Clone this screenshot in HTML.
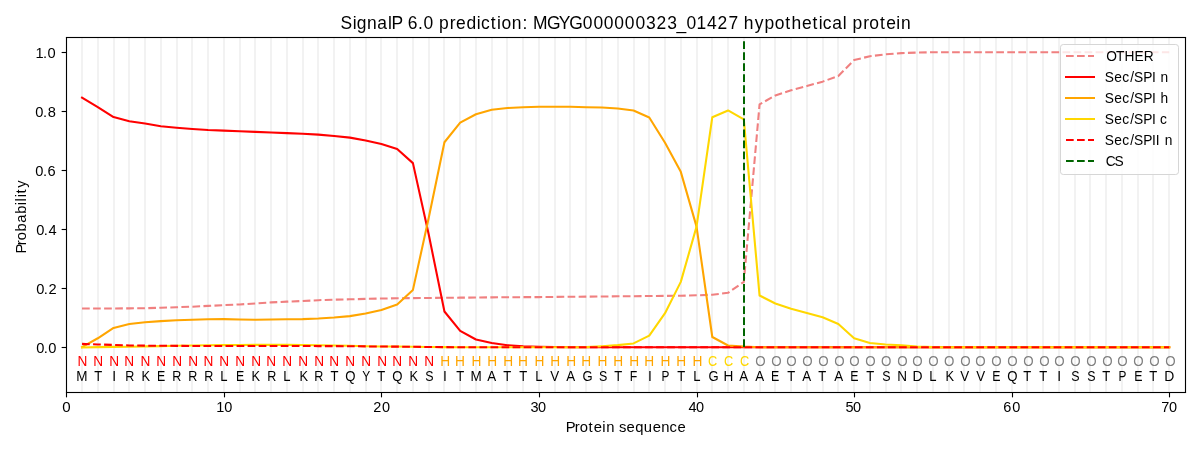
<!DOCTYPE html>
<html><head><meta charset="utf-8"><title>SignalP 6.0 prediction</title><style>
html,body{margin:0;padding:0;background:#ffffff;}
body{width:1200px;height:450px;overflow:hidden;}
svg{display:block;font-family:"Liberation Sans", sans-serif;will-change:transform;}
</style></head><body>
<svg width="1200" height="450" viewBox="0 0 1200 450">
<rect x="0" y="0" width="1200" height="450" fill="#ffffff"/>
<g fill="#f2f2f2"><rect x="81" y="37.33" width="2" height="354.39"/><rect x="97" y="37.33" width="2" height="354.39"/><rect x="113" y="37.33" width="2" height="354.39"/><rect x="128" y="37.33" width="2" height="354.39"/><rect x="144" y="37.33" width="2" height="354.39"/><rect x="160" y="37.33" width="2" height="354.39"/><rect x="176" y="37.33" width="2" height="354.39"/><rect x="191" y="37.33" width="2" height="354.39"/><rect x="207" y="37.33" width="2" height="354.39"/><rect x="223" y="37.33" width="2" height="354.39"/><rect x="239" y="37.33" width="2" height="354.39"/><rect x="254" y="37.33" width="2" height="354.39"/><rect x="270" y="37.33" width="2" height="354.39"/><rect x="286" y="37.33" width="2" height="354.39"/><rect x="302" y="37.33" width="2" height="354.39"/><rect x="317" y="37.33" width="2" height="354.39"/><rect x="333" y="37.33" width="2" height="354.39"/><rect x="349" y="37.33" width="2" height="354.39"/><rect x="365" y="37.33" width="2" height="354.39"/><rect x="380" y="37.33" width="2" height="354.39"/><rect x="396" y="37.33" width="2" height="354.39"/><rect x="412" y="37.33" width="2" height="354.39"/><rect x="428" y="37.33" width="2" height="354.39"/><rect x="443" y="37.33" width="2" height="354.39"/><rect x="459" y="37.33" width="2" height="354.39"/><rect x="475" y="37.33" width="2" height="354.39"/><rect x="491" y="37.33" width="2" height="354.39"/><rect x="506" y="37.33" width="2" height="354.39"/><rect x="522" y="37.33" width="2" height="354.39"/><rect x="538" y="37.33" width="2" height="354.39"/><rect x="554" y="37.33" width="2" height="354.39"/><rect x="569" y="37.33" width="2" height="354.39"/><rect x="585" y="37.33" width="2" height="354.39"/><rect x="601" y="37.33" width="2" height="354.39"/><rect x="617" y="37.33" width="2" height="354.39"/><rect x="633" y="37.33" width="2" height="354.39"/><rect x="648" y="37.33" width="2" height="354.39"/><rect x="664" y="37.33" width="2" height="354.39"/><rect x="680" y="37.33" width="2" height="354.39"/><rect x="696" y="37.33" width="2" height="354.39"/><rect x="711" y="37.33" width="2" height="354.39"/><rect x="727" y="37.33" width="2" height="354.39"/><rect x="743" y="37.33" width="2" height="354.39"/><rect x="759" y="37.33" width="2" height="354.39"/><rect x="774" y="37.33" width="2" height="354.39"/><rect x="790" y="37.33" width="2" height="354.39"/><rect x="806" y="37.33" width="2" height="354.39"/><rect x="822" y="37.33" width="2" height="354.39"/><rect x="837" y="37.33" width="2" height="354.39"/><rect x="853" y="37.33" width="2" height="354.39"/><rect x="869" y="37.33" width="2" height="354.39"/><rect x="885" y="37.33" width="2" height="354.39"/><rect x="900" y="37.33" width="2" height="354.39"/><rect x="916" y="37.33" width="2" height="354.39"/><rect x="932" y="37.33" width="2" height="354.39"/><rect x="948" y="37.33" width="2" height="354.39"/><rect x="963" y="37.33" width="2" height="354.39"/><rect x="979" y="37.33" width="2" height="354.39"/><rect x="995" y="37.33" width="2" height="354.39"/><rect x="1011" y="37.33" width="2" height="354.39"/><rect x="1026" y="37.33" width="2" height="354.39"/><rect x="1042" y="37.33" width="2" height="354.39"/><rect x="1058" y="37.33" width="2" height="354.39"/><rect x="1074" y="37.33" width="2" height="354.39"/><rect x="1089" y="37.33" width="2" height="354.39"/><rect x="1105" y="37.33" width="2" height="354.39"/><rect x="1121" y="37.33" width="2" height="354.39"/><rect x="1137" y="37.33" width="2" height="354.39"/><rect x="1152" y="37.33" width="2" height="354.39"/><rect x="1168" y="37.33" width="2" height="354.39"/></g>
<g fill="none" stroke-width="2.0833" stroke-linejoin="round"><polyline points="82.03,308.50 97.79,308.50 113.55,308.44 129.30,308.38 145.06,308.20 160.82,307.79 176.57,307.26 192.33,306.67 208.09,305.90 223.84,305.13 239.60,304.45 255.36,303.42 271.11,302.39 286.87,301.65 302.63,301.00 318.38,300.17 334.14,299.70 349.90,299.29 365.65,298.90 381.41,298.55 397.17,298.31 412.92,298.10 428.68,297.96 444.44,297.81 460.19,297.66 475.95,297.51 491.71,297.37 507.46,297.22 523.22,297.16 538.98,297.10 554.73,296.92 570.49,296.72 586.25,296.63 602.00,296.48 617.76,296.33 633.52,296.18 649.27,296.04 665.03,295.89 680.79,295.74 696.54,295.30 712.30,294.71 728.06,292.79 743.81,281.86 759.57,104.31 775.33,95.51 791.08,90.31 806.84,86.06 822.60,81.63 838.35,76.02 854.11,60.07 869.87,56.23 885.62,54.31 901.38,53.10 917.14,52.60 932.89,52.25 948.65,52.25 964.41,52.25 980.16,52.25 995.92,52.25 1011.68,52.25 1027.43,52.25 1043.19,52.25 1058.95,52.25 1074.70,52.25 1090.46,52.25 1106.22,52.25 1121.97,52.25 1137.73,52.25 1153.49,52.25 1169.24,52.25" stroke="#f08080" stroke-dasharray="7.708,3.333"/><polyline points="82.03,97.58 97.79,107.03 113.55,117.07 129.30,121.21 145.06,123.57 160.82,126.23 176.57,127.70 192.33,129.03 208.09,130.07 223.84,130.66 239.60,131.33 255.36,131.84 271.11,132.43 286.87,133.11 302.63,133.73 318.38,134.64 334.14,135.97 349.90,137.63 365.65,140.52 381.41,144.03 397.17,149.02 412.92,163.14 428.68,234.31 444.44,311.51 460.19,330.91 475.95,339.51 491.71,342.99 507.46,345.24 523.22,346.24 538.98,346.77 554.73,347.07 570.49,347.19 586.25,347.25 602.00,347.25 617.76,347.25 633.52,347.25 649.27,347.25 665.03,347.25 680.79,347.25 696.54,347.25 712.30,347.25 728.06,347.25 743.81,347.25 759.57,347.25 775.33,347.25 791.08,347.25 806.84,347.25 822.60,347.25 838.35,347.25 854.11,347.25 869.87,347.25 885.62,347.25 901.38,347.25 917.14,347.25 932.89,347.25 948.65,347.25 964.41,347.25 980.16,347.25 995.92,347.25 1011.68,347.25 1027.43,347.25 1043.19,347.25 1058.95,347.25 1074.70,347.25 1090.46,347.25 1106.22,347.25 1121.97,347.25 1137.73,347.25 1153.49,347.25 1169.24,347.25" stroke="#ff0000" stroke-linecap="square"/><polyline points="82.03,347.13 97.79,338.27 113.55,327.93 129.30,323.92 145.06,322.32 160.82,321.14 176.57,320.31 192.33,319.72 208.09,319.31 223.84,319.10 239.60,319.52 255.36,319.72 271.11,319.52 286.87,319.31 302.63,319.10 318.38,318.48 334.14,317.51 349.90,316.12 365.65,313.52 381.41,309.92 397.17,304.51 412.92,289.89 428.68,218.07 444.44,142.23 460.19,122.62 475.95,114.24 491.71,109.84 507.46,108.03 523.22,107.18 538.98,106.73 554.73,106.73 570.49,106.73 586.25,107.18 602.00,107.56 617.76,108.57 633.52,110.57 649.27,117.51 665.03,142.82 680.79,171.85 696.54,226.64 712.30,337.00 728.06,345.50 743.81,346.54 759.57,347.19 775.33,347.25 791.08,347.25 806.84,347.25 822.60,347.25 838.35,347.25 854.11,347.25 869.87,347.25 885.62,347.25 901.38,347.25 917.14,347.25 932.89,347.25 948.65,347.25 964.41,347.25 980.16,347.25 995.92,347.25 1011.68,347.25 1027.43,347.25 1043.19,347.25 1058.95,347.25 1074.70,347.25 1090.46,347.25 1106.22,347.25 1121.97,347.25 1137.73,347.25 1153.49,347.25 1169.24,347.25" stroke="#ffa500" stroke-linecap="square"/><polyline points="82.03,347.42 97.79,347.13 113.55,346.89 129.30,346.69 145.06,346.39 160.82,346.09 176.57,345.80 192.33,345.50 208.09,345.30 223.84,345.12 239.60,345.00 255.36,344.91 271.11,344.88 286.87,344.88 302.63,345.00 318.38,345.18 334.14,345.47 349.90,345.83 365.65,346.18 381.41,346.42 397.17,346.54 412.92,346.77 428.68,346.98 444.44,347.13 460.19,347.19 475.95,347.22 491.71,347.25 507.46,347.25 523.22,347.25 538.98,347.25 554.73,347.25 570.49,347.19 586.25,347.13 602.00,346.24 617.76,345.12 633.52,343.44 649.27,335.61 665.03,313.17 680.79,281.86 696.54,226.64 712.30,117.22 728.06,110.43 743.81,119.43 759.57,295.54 775.33,303.51 791.08,308.74 806.84,313.02 822.60,317.30 838.35,324.00 854.11,338.21 869.87,342.99 885.62,344.47 901.38,345.30 917.14,346.54 932.89,347.13 948.65,347.19 964.41,347.19 980.16,347.19 995.92,347.19 1011.68,347.19 1027.43,347.19 1043.19,347.19 1058.95,347.19 1074.70,347.19 1090.46,347.19 1106.22,347.19 1121.97,347.19 1137.73,347.19 1153.49,347.19 1169.24,347.19" stroke="#ffd700" stroke-linecap="square"/><polyline points="82.03,343.88 97.79,344.47 113.55,344.88 129.30,345.42 145.06,345.65 160.82,345.77 176.57,345.86 192.33,345.95 208.09,345.98 223.84,346.01 239.60,346.01 255.36,346.01 271.11,346.01 286.87,346.01 302.63,346.04 318.38,346.09 334.14,346.15 349.90,346.24 365.65,346.39 381.41,346.54 397.17,346.63 412.92,346.83 428.68,346.98 444.44,347.13 460.19,347.19 475.95,347.25 491.71,347.25 507.46,347.25 523.22,347.25 538.98,347.25 554.73,347.25 570.49,347.25 586.25,347.25 602.00,347.25 617.76,347.25 633.52,347.25 649.27,347.25 665.03,347.25 680.79,347.25 696.54,347.25 712.30,347.25 728.06,347.25 743.81,347.25 759.57,347.25 775.33,347.25 791.08,347.25 806.84,347.25 822.60,347.25 838.35,347.25 854.11,347.25 869.87,347.25 885.62,347.25 901.38,347.25 917.14,347.25 932.89,347.25 948.65,347.25 964.41,347.25 980.16,347.25 995.92,347.25 1011.68,347.25 1027.43,347.25 1043.19,347.25 1058.95,347.25 1074.70,347.25 1090.46,347.25 1106.22,347.25 1121.97,347.25 1137.73,347.25 1153.49,347.25 1169.24,347.25" stroke="#ff0000" stroke-dasharray="7.708,3.333"/><line x1="744" y1="347" x2="744" y2="37.33" stroke="#006400" stroke-width="2" stroke-dasharray="7.708,3.333"/></g>
<g text-anchor="middle"><text x="82.32" y="365.60" fill="#ff0000" font-size="15.400" textLength="9.87" lengthAdjust="spacingAndGlyphs">N</text><text x="81.98" y="380.60" fill="#000000" font-size="14.500" textLength="11.26" lengthAdjust="spacingAndGlyphs">M</text><text x="98.08" y="365.60" fill="#ff0000" font-size="15.400" textLength="9.87" lengthAdjust="spacingAndGlyphs">N</text><text x="98.27" y="380.60" fill="#000000" font-size="14.500" textLength="7.97" lengthAdjust="spacingAndGlyphs">T</text><text x="114.23" y="365.60" fill="#ff0000" font-size="15.400" textLength="9.87" lengthAdjust="spacingAndGlyphs">N</text><text x="114.09" y="380.60" fill="#000000" font-size="14.500" textLength="3.85" lengthAdjust="spacingAndGlyphs">I</text><text x="129.26" y="365.60" fill="#ff0000" font-size="15.400" textLength="9.87" lengthAdjust="spacingAndGlyphs">N</text><text x="129.73" y="380.60" fill="#000000" font-size="14.500" textLength="9.07" lengthAdjust="spacingAndGlyphs">R</text><text x="145.35" y="365.60" fill="#ff0000" font-size="15.400" textLength="9.87" lengthAdjust="spacingAndGlyphs">N</text><text x="145.76" y="380.60" fill="#000000" font-size="14.500" textLength="8.56" lengthAdjust="spacingAndGlyphs">K</text><text x="161.10" y="365.60" fill="#ff0000" font-size="15.400" textLength="9.87" lengthAdjust="spacingAndGlyphs">N</text><text x="161.18" y="380.60" fill="#000000" font-size="14.500" textLength="8.25" lengthAdjust="spacingAndGlyphs">E</text><text x="177.26" y="365.60" fill="#ff0000" font-size="15.400" textLength="9.87" lengthAdjust="spacingAndGlyphs">N</text><text x="176.80" y="380.60" fill="#000000" font-size="14.500" textLength="9.07" lengthAdjust="spacingAndGlyphs">R</text><text x="193.17" y="365.60" fill="#ff0000" font-size="15.400" textLength="9.87" lengthAdjust="spacingAndGlyphs">N</text><text x="192.76" y="380.60" fill="#000000" font-size="14.500" textLength="9.07" lengthAdjust="spacingAndGlyphs">R</text><text x="208.37" y="365.60" fill="#ff0000" font-size="15.400" textLength="9.87" lengthAdjust="spacingAndGlyphs">N</text><text x="208.70" y="380.60" fill="#000000" font-size="14.500" textLength="9.07" lengthAdjust="spacingAndGlyphs">R</text><text x="224.21" y="365.60" fill="#ff0000" font-size="15.400" textLength="9.87" lengthAdjust="spacingAndGlyphs">N</text><text x="223.93" y="380.60" fill="#000000" font-size="14.500" textLength="7.27" lengthAdjust="spacingAndGlyphs">L</text><text x="240.28" y="365.60" fill="#ff0000" font-size="15.400" textLength="9.87" lengthAdjust="spacingAndGlyphs">N</text><text x="240.17" y="380.60" fill="#000000" font-size="14.500" textLength="8.25" lengthAdjust="spacingAndGlyphs">E</text><text x="256.21" y="365.60" fill="#ff0000" font-size="15.400" textLength="9.87" lengthAdjust="spacingAndGlyphs">N</text><text x="255.73" y="380.60" fill="#000000" font-size="14.500" textLength="8.56" lengthAdjust="spacingAndGlyphs">K</text><text x="271.15" y="365.60" fill="#ff0000" font-size="15.400" textLength="9.87" lengthAdjust="spacingAndGlyphs">N</text><text x="271.73" y="380.60" fill="#000000" font-size="14.500" textLength="9.07" lengthAdjust="spacingAndGlyphs">R</text><text x="287.24" y="365.60" fill="#ff0000" font-size="15.400" textLength="9.87" lengthAdjust="spacingAndGlyphs">N</text><text x="286.95" y="380.60" fill="#000000" font-size="14.500" textLength="7.27" lengthAdjust="spacingAndGlyphs">L</text><text x="303.23" y="365.60" fill="#ff0000" font-size="15.400" textLength="9.87" lengthAdjust="spacingAndGlyphs">N</text><text x="303.74" y="380.60" fill="#000000" font-size="14.500" textLength="8.56" lengthAdjust="spacingAndGlyphs">K</text><text x="319.15" y="365.60" fill="#ff0000" font-size="15.400" textLength="9.87" lengthAdjust="spacingAndGlyphs">N</text><text x="318.81" y="380.60" fill="#000000" font-size="14.500" textLength="9.07" lengthAdjust="spacingAndGlyphs">R</text><text x="334.18" y="365.60" fill="#ff0000" font-size="15.400" textLength="9.87" lengthAdjust="spacingAndGlyphs">N</text><text x="334.36" y="380.60" fill="#000000" font-size="14.500" textLength="7.97" lengthAdjust="spacingAndGlyphs">T</text><text x="350.18" y="365.60" fill="#ff0000" font-size="15.400" textLength="9.87" lengthAdjust="spacingAndGlyphs">N</text><text x="350.51" y="380.60" fill="#000000" font-size="14.500" textLength="10.28" lengthAdjust="spacingAndGlyphs">Q</text><text x="366.26" y="365.60" fill="#ff0000" font-size="15.400" textLength="9.87" lengthAdjust="spacingAndGlyphs">N</text><text x="366.19" y="380.60" fill="#000000" font-size="14.500" textLength="7.97" lengthAdjust="spacingAndGlyphs">Y</text><text x="382.18" y="365.60" fill="#ff0000" font-size="15.400" textLength="9.87" lengthAdjust="spacingAndGlyphs">N</text><text x="381.18" y="380.60" fill="#000000" font-size="14.500" textLength="7.97" lengthAdjust="spacingAndGlyphs">T</text><text x="397.21" y="365.60" fill="#ff0000" font-size="15.400" textLength="9.87" lengthAdjust="spacingAndGlyphs">N</text><text x="397.47" y="380.60" fill="#000000" font-size="14.500" textLength="10.28" lengthAdjust="spacingAndGlyphs">Q</text><text x="413.21" y="365.60" fill="#ff0000" font-size="15.400" textLength="9.87" lengthAdjust="spacingAndGlyphs">N</text><text x="413.81" y="380.60" fill="#000000" font-size="14.500" textLength="8.56" lengthAdjust="spacingAndGlyphs">K</text><text x="429.29" y="365.60" fill="#ff0000" font-size="15.400" textLength="9.87" lengthAdjust="spacingAndGlyphs">N</text><text x="429.28" y="380.60" fill="#000000" font-size="14.500" textLength="8.29" lengthAdjust="spacingAndGlyphs">S</text><text x="445.17" y="365.60" fill="#ffa500" font-size="15.400" textLength="9.92" lengthAdjust="spacingAndGlyphs">H</text><text x="444.99" y="380.60" fill="#000000" font-size="14.500" textLength="3.85" lengthAdjust="spacingAndGlyphs">I</text><text x="460.05" y="365.60" fill="#ffa500" font-size="15.400" textLength="9.92" lengthAdjust="spacingAndGlyphs">H</text><text x="460.16" y="380.60" fill="#000000" font-size="14.500" textLength="7.97" lengthAdjust="spacingAndGlyphs">T</text><text x="476.35" y="365.60" fill="#ffa500" font-size="15.400" textLength="9.92" lengthAdjust="spacingAndGlyphs">H</text><text x="476.06" y="380.60" fill="#000000" font-size="14.500" textLength="11.26" lengthAdjust="spacingAndGlyphs">M</text><text x="492.19" y="365.60" fill="#ffa500" font-size="15.400" textLength="9.92" lengthAdjust="spacingAndGlyphs">H</text><text x="491.65" y="380.60" fill="#000000" font-size="14.500" textLength="8.93" lengthAdjust="spacingAndGlyphs">A</text><text x="508.20" y="365.60" fill="#ffa500" font-size="15.400" textLength="9.92" lengthAdjust="spacingAndGlyphs">H</text><text x="507.24" y="380.60" fill="#000000" font-size="14.500" textLength="7.97" lengthAdjust="spacingAndGlyphs">T</text><text x="523.08" y="365.60" fill="#ffa500" font-size="15.400" textLength="9.92" lengthAdjust="spacingAndGlyphs">H</text><text x="523.19" y="380.60" fill="#000000" font-size="14.500" textLength="7.97" lengthAdjust="spacingAndGlyphs">T</text><text x="539.46" y="365.60" fill="#ffa500" font-size="15.400" textLength="9.92" lengthAdjust="spacingAndGlyphs">H</text><text x="538.90" y="380.60" fill="#000000" font-size="14.500" textLength="7.27" lengthAdjust="spacingAndGlyphs">L</text><text x="555.14" y="365.60" fill="#ffa500" font-size="15.400" textLength="9.92" lengthAdjust="spacingAndGlyphs">H</text><text x="554.73" y="380.60" fill="#000000" font-size="14.500" textLength="8.93" lengthAdjust="spacingAndGlyphs">V</text><text x="571.30" y="365.60" fill="#ffa500" font-size="15.400" textLength="9.92" lengthAdjust="spacingAndGlyphs">H</text><text x="570.59" y="380.60" fill="#000000" font-size="14.500" textLength="8.93" lengthAdjust="spacingAndGlyphs">A</text><text x="586.11" y="365.60" fill="#ffa500" font-size="15.400" textLength="9.92" lengthAdjust="spacingAndGlyphs">H</text><text x="587.53" y="380.60" fill="#000000" font-size="14.500" textLength="10.12" lengthAdjust="spacingAndGlyphs">G</text><text x="602.48" y="365.60" fill="#ffa500" font-size="15.400" textLength="9.92" lengthAdjust="spacingAndGlyphs">H</text><text x="603.22" y="380.60" fill="#000000" font-size="14.500" textLength="8.29" lengthAdjust="spacingAndGlyphs">S</text><text x="618.16" y="365.60" fill="#ffa500" font-size="15.400" textLength="9.92" lengthAdjust="spacingAndGlyphs">H</text><text x="618.24" y="380.60" fill="#000000" font-size="14.500" textLength="7.97" lengthAdjust="spacingAndGlyphs">T</text><text x="634.32" y="365.60" fill="#ffa500" font-size="15.400" textLength="9.92" lengthAdjust="spacingAndGlyphs">H</text><text x="633.60" y="380.60" fill="#000000" font-size="14.500" textLength="7.51" lengthAdjust="spacingAndGlyphs">F</text><text x="649.13" y="365.60" fill="#ffa500" font-size="15.400" textLength="9.92" lengthAdjust="spacingAndGlyphs">H</text><text x="649.98" y="380.60" fill="#000000" font-size="14.500" textLength="3.85" lengthAdjust="spacingAndGlyphs">I</text><text x="665.51" y="365.60" fill="#ffa500" font-size="15.400" textLength="9.92" lengthAdjust="spacingAndGlyphs">H</text><text x="665.38" y="380.60" fill="#000000" font-size="14.500" textLength="7.87" lengthAdjust="spacingAndGlyphs">P</text><text x="681.19" y="365.60" fill="#ffa500" font-size="15.400" textLength="9.92" lengthAdjust="spacingAndGlyphs">H</text><text x="681.27" y="380.60" fill="#000000" font-size="14.500" textLength="7.97" lengthAdjust="spacingAndGlyphs">T</text><text x="697.35" y="365.60" fill="#ffa500" font-size="15.400" textLength="9.92" lengthAdjust="spacingAndGlyphs">H</text><text x="696.99" y="380.60" fill="#000000" font-size="14.500" textLength="7.27" lengthAdjust="spacingAndGlyphs">L</text><text x="712.72" y="365.60" fill="#ffd700" font-size="15.400" textLength="9.21" lengthAdjust="spacingAndGlyphs">C</text><text x="713.45" y="380.60" fill="#000000" font-size="14.500" textLength="10.12" lengthAdjust="spacingAndGlyphs">G</text><text x="728.48" y="365.60" fill="#ffd700" font-size="15.400" textLength="9.21" lengthAdjust="spacingAndGlyphs">C</text><text x="728.44" y="380.60" fill="#000000" font-size="14.500" textLength="9.82" lengthAdjust="spacingAndGlyphs">H</text><text x="744.49" y="365.60" fill="#ffd700" font-size="15.400" textLength="9.21" lengthAdjust="spacingAndGlyphs">C</text><text x="743.72" y="380.60" fill="#000000" font-size="14.500" textLength="8.93" lengthAdjust="spacingAndGlyphs">A</text><text x="760.39" y="365.60" fill="#808080" font-size="15.400" textLength="10.39" lengthAdjust="spacingAndGlyphs">O</text><text x="759.69" y="380.60" fill="#000000" font-size="14.500" textLength="8.93" lengthAdjust="spacingAndGlyphs">A</text><text x="776.51" y="365.60" fill="#808080" font-size="15.400" textLength="10.39" lengthAdjust="spacingAndGlyphs">O</text><text x="775.14" y="380.60" fill="#000000" font-size="14.500" textLength="8.25" lengthAdjust="spacingAndGlyphs">E</text><text x="791.53" y="365.60" fill="#808080" font-size="15.400" textLength="10.39" lengthAdjust="spacingAndGlyphs">O</text><text x="791.31" y="380.60" fill="#000000" font-size="14.500" textLength="7.97" lengthAdjust="spacingAndGlyphs">T</text><text x="807.35" y="365.60" fill="#808080" font-size="15.400" textLength="10.39" lengthAdjust="spacingAndGlyphs">O</text><text x="806.75" y="380.60" fill="#000000" font-size="14.500" textLength="8.93" lengthAdjust="spacingAndGlyphs">A</text><text x="823.42" y="365.60" fill="#808080" font-size="15.400" textLength="10.39" lengthAdjust="spacingAndGlyphs">O</text><text x="822.18" y="380.60" fill="#000000" font-size="14.500" textLength="7.97" lengthAdjust="spacingAndGlyphs">T</text><text x="839.54" y="365.60" fill="#808080" font-size="15.400" textLength="10.39" lengthAdjust="spacingAndGlyphs">O</text><text x="838.62" y="380.60" fill="#000000" font-size="14.500" textLength="8.93" lengthAdjust="spacingAndGlyphs">A</text><text x="854.55" y="365.60" fill="#808080" font-size="15.400" textLength="10.39" lengthAdjust="spacingAndGlyphs">O</text><text x="854.28" y="380.60" fill="#000000" font-size="14.500" textLength="8.25" lengthAdjust="spacingAndGlyphs">E</text><text x="870.38" y="365.60" fill="#808080" font-size="15.400" textLength="10.39" lengthAdjust="spacingAndGlyphs">O</text><text x="870.35" y="380.60" fill="#000000" font-size="14.500" textLength="7.97" lengthAdjust="spacingAndGlyphs">T</text><text x="886.27" y="365.60" fill="#808080" font-size="15.400" textLength="10.39" lengthAdjust="spacingAndGlyphs">O</text><text x="886.30" y="380.60" fill="#000000" font-size="14.500" textLength="8.29" lengthAdjust="spacingAndGlyphs">S</text><text x="902.33" y="365.60" fill="#808080" font-size="15.400" textLength="10.39" lengthAdjust="spacingAndGlyphs">O</text><text x="902.21" y="380.60" fill="#000000" font-size="14.500" textLength="9.77" lengthAdjust="spacingAndGlyphs">N</text><text x="917.54" y="365.60" fill="#808080" font-size="15.400" textLength="10.39" lengthAdjust="spacingAndGlyphs">O</text><text x="917.57" y="380.60" fill="#000000" font-size="14.500" textLength="10.05" lengthAdjust="spacingAndGlyphs">D</text><text x="933.40" y="365.60" fill="#808080" font-size="15.400" textLength="10.39" lengthAdjust="spacingAndGlyphs">O</text><text x="932.98" y="380.60" fill="#000000" font-size="14.500" textLength="7.27" lengthAdjust="spacingAndGlyphs">L</text><text x="949.30" y="365.60" fill="#808080" font-size="15.400" textLength="10.39" lengthAdjust="spacingAndGlyphs">O</text><text x="949.77" y="380.60" fill="#000000" font-size="14.500" textLength="8.56" lengthAdjust="spacingAndGlyphs">K</text><text x="965.35" y="365.60" fill="#808080" font-size="15.400" textLength="10.39" lengthAdjust="spacingAndGlyphs">O</text><text x="964.79" y="380.60" fill="#000000" font-size="14.500" textLength="8.93" lengthAdjust="spacingAndGlyphs">V</text><text x="980.56" y="365.60" fill="#808080" font-size="15.400" textLength="10.39" lengthAdjust="spacingAndGlyphs">O</text><text x="980.76" y="380.60" fill="#000000" font-size="14.500" textLength="8.93" lengthAdjust="spacingAndGlyphs">V</text><text x="996.36" y="365.60" fill="#808080" font-size="15.400" textLength="10.39" lengthAdjust="spacingAndGlyphs">O</text><text x="996.28" y="380.60" fill="#000000" font-size="14.500" textLength="8.25" lengthAdjust="spacingAndGlyphs">E</text><text x="1012.32" y="365.60" fill="#808080" font-size="15.400" textLength="10.39" lengthAdjust="spacingAndGlyphs">O</text><text x="1012.38" y="380.60" fill="#000000" font-size="14.500" textLength="10.28" lengthAdjust="spacingAndGlyphs">Q</text><text x="1028.38" y="365.60" fill="#808080" font-size="15.400" textLength="10.39" lengthAdjust="spacingAndGlyphs">O</text><text x="1027.20" y="380.60" fill="#000000" font-size="14.500" textLength="7.97" lengthAdjust="spacingAndGlyphs">T</text><text x="1044.38" y="365.60" fill="#808080" font-size="15.400" textLength="10.39" lengthAdjust="spacingAndGlyphs">O</text><text x="1043.16" y="380.60" fill="#000000" font-size="14.500" textLength="7.97" lengthAdjust="spacingAndGlyphs">T</text><text x="1059.39" y="365.60" fill="#808080" font-size="15.400" textLength="10.39" lengthAdjust="spacingAndGlyphs">O</text><text x="1059.07" y="380.60" fill="#000000" font-size="14.500" textLength="3.85" lengthAdjust="spacingAndGlyphs">I</text><text x="1075.35" y="365.60" fill="#808080" font-size="15.400" textLength="10.39" lengthAdjust="spacingAndGlyphs">O</text><text x="1075.30" y="380.60" fill="#000000" font-size="14.500" textLength="8.29" lengthAdjust="spacingAndGlyphs">S</text><text x="1091.41" y="365.60" fill="#808080" font-size="15.400" textLength="10.39" lengthAdjust="spacingAndGlyphs">O</text><text x="1091.31" y="380.60" fill="#000000" font-size="14.500" textLength="8.29" lengthAdjust="spacingAndGlyphs">S</text><text x="1107.40" y="365.60" fill="#808080" font-size="15.400" textLength="10.39" lengthAdjust="spacingAndGlyphs">O</text><text x="1106.18" y="380.60" fill="#000000" font-size="14.500" textLength="7.97" lengthAdjust="spacingAndGlyphs">T</text><text x="1122.42" y="365.60" fill="#808080" font-size="15.400" textLength="10.39" lengthAdjust="spacingAndGlyphs">O</text><text x="1122.32" y="380.60" fill="#000000" font-size="14.500" textLength="7.87" lengthAdjust="spacingAndGlyphs">P</text><text x="1138.38" y="365.60" fill="#808080" font-size="15.400" textLength="10.39" lengthAdjust="spacingAndGlyphs">O</text><text x="1138.28" y="380.60" fill="#000000" font-size="14.500" textLength="8.25" lengthAdjust="spacingAndGlyphs">E</text><text x="1154.37" y="365.60" fill="#808080" font-size="15.400" textLength="10.39" lengthAdjust="spacingAndGlyphs">O</text><text x="1153.26" y="380.60" fill="#000000" font-size="14.500" textLength="7.97" lengthAdjust="spacingAndGlyphs">T</text><text x="1170.43" y="365.60" fill="#808080" font-size="15.400" textLength="10.39" lengthAdjust="spacingAndGlyphs">O</text><text x="1169.30" y="380.60" fill="#000000" font-size="14.500" textLength="10.05" lengthAdjust="spacingAndGlyphs">D</text></g>
<g stroke="#000000" stroke-width="1.1111" fill="none"><line x1="66.5" y1="37.5" x2="66.5" y2="392.5" stroke-linecap="square"/><line x1="1185.5" y1="37.5" x2="1185.5" y2="392.5" stroke-linecap="square"/><line x1="66.5" y1="37.5" x2="1185.5" y2="37.5" stroke-linecap="square"/><line x1="66.5" y1="392.5" x2="1185.5" y2="392.5" stroke-linecap="square"/></g>
<g stroke="#000000" stroke-opacity="0.055" stroke-width="1" fill="none"><line x1="66" y1="36.5" x2="1186" y2="36.5"/><line x1="67" y1="38.5" x2="1185" y2="38.5"/><line x1="67" y1="391.5" x2="1185" y2="391.5"/><line x1="66" y1="393.5" x2="1186" y2="393.5"/></g>
<g stroke="#000000" stroke-width="1.1111"><line x1="66.5" y1="392.5" x2="66.5" y2="397.36"/><line x1="224.5" y1="392.5" x2="224.5" y2="397.36"/><line x1="381.5" y1="392.5" x2="381.5" y2="397.36"/><line x1="539.5" y1="392.5" x2="539.5" y2="397.36"/><line x1="697.5" y1="392.5" x2="697.5" y2="397.36"/><line x1="854.5" y1="392.5" x2="854.5" y2="397.36"/><line x1="1012.5" y1="392.5" x2="1012.5" y2="397.36"/><line x1="1169.5" y1="392.5" x2="1169.5" y2="397.36"/><line x1="66.5" y1="347.5" x2="61.64" y2="347.5"/><line x1="66.5" y1="288.5" x2="61.64" y2="288.5"/><line x1="66.5" y1="229.5" x2="61.64" y2="229.5"/><line x1="66.5" y1="170.5" x2="61.64" y2="170.5"/><line x1="66.5" y1="111.5" x2="61.64" y2="111.5"/><line x1="66.5" y1="52.5" x2="61.64" y2="52.5"/></g>
<g font-size="14.500" fill="#000000"><text x="66.38" y="411.50" font-size="14.500" text-anchor="middle" textLength="8.39" lengthAdjust="spacingAndGlyphs">0</text><text x="216.36 224.20" y="411.50" font-size="14.500">10</text><text x="373.25 381.94" y="411.50" font-size="14.500">20</text><text x="530.61 538.02" y="411.50" font-size="14.500">30</text><text x="688.38 696.00" y="411.50" font-size="14.500">40</text><text x="845.49 853.04" y="411.50" font-size="14.500">50</text><text x="1003.33 1012.26" y="411.50" font-size="14.500">60</text><text x="1161.37 1169.07" y="411.50" font-size="14.500">70</text><text x="36.22 43.81 48.31" y="352.87" font-size="14.650">0.0</text><text x="36.22 43.81 48.41" y="293.81" font-size="14.650">0.2</text><text x="36.22 43.81 48.57" y="234.74" font-size="14.650">0.4</text><text x="35.31 42.88 47.42" y="175.68" font-size="14.650">0.6</text><text x="35.31 42.88 47.63" y="116.61" font-size="14.650">0.8</text><text x="35.42 43.11 47.51" y="57.55" font-size="14.650">1.0</text></g>
<text x="340.45 352.67 356.63 366.91 377.19 387.88 391.47 401.66 407.66 418.02 423.46 433.39 439.10 449.81 456.02 466.39 476.86 480.95 490.84 497.00 501.49 511.80 522.40 527.67 533.12 546.98 558.64 569.27 582.86 593.41 603.84 614.36 624.83 635.41 646.07 656.39 667.17 676.38 686.38 696.60 707.04 717.57 728.48 738.74 743.80 754.81 764.42 774.74 785.35 791.38 801.97 812.44 818.83 822.83 832.13 842.77 847.49 852.50 863.37 869.31 880.04 886.15 896.37 900.88" y="28.55" font-size="17.450">SignalP 6.0 prediction: MGYG000000323_01427 hypothetical protein</text>
<text x="565.68 574.67 579.71 588.57 593.87 602.37 606.22 614.76 618.95 626.47 635.26 643.86 652.64 661.16 669.41 677.57" y="431.50" font-size="14.800">Protein sequence</text>
<g transform="translate(25.60,216.96) rotate(-90)"><text x="-36.44 -28.34 -23.33 -14.62 -5.92 3.11 11.76 15.58 19.65 23.52 29.11" y="0.00" font-size="14.800">Probability</text></g>
<rect x="1060.5" y="44.5" width="118" height="130" rx="2.78" ry="2.78" fill="#ffffff" fill-opacity="0.8" stroke="#d6d6d6" stroke-width="1"/>
<g font-size="13.750" fill="#000000"><rect x="1066" y="55" width="7.7" height="2" fill="#f08080"/><rect x="1077" y="55" width="7.7" height="2" fill="#f08080"/><rect x="1088" y="55" width="6" height="2" fill="#f08080"/><text x="1106.35 1115.95 1124.60 1134.45 1143.63" y="60.60" font-size="13.750">OTHER</text><rect x="1065" y="76" width="30" height="2" fill="#ff0000"/><text x="1104.75 1114.36 1122.36 1130.33 1134.06 1143.23 1152.09 1156.11 1160.54" y="81.60" font-size="13.750">Sec/SPI n</text><rect x="1065" y="97" width="30" height="2" fill="#ffa500"/><text x="1104.75 1114.36 1122.36 1130.33 1134.06 1143.23 1152.09 1156.11 1160.56" y="102.60" font-size="13.750">Sec/SPI h</text><rect x="1065" y="118" width="30" height="2" fill="#ffd700"/><text x="1104.75 1114.36 1122.36 1130.33 1134.06 1143.23 1152.09 1156.11 1160.08" y="123.60" font-size="13.750">Sec/SPI c</text><rect x="1066" y="139" width="7.7" height="2" fill="#ff0000"/><rect x="1077" y="139" width="7.7" height="2" fill="#ff0000"/><rect x="1088" y="139" width="6" height="2" fill="#ff0000"/><text x="1104.75 1114.36 1122.36 1130.33 1134.06 1143.23 1152.09 1155.86 1160.20 1164.63" y="144.60" font-size="13.750">Sec/SPII n</text><rect x="1066" y="160" width="7.7" height="2" fill="#006400"/><rect x="1077" y="160" width="7.7" height="2" fill="#006400"/><rect x="1088" y="160" width="6" height="2" fill="#006400"/><text x="1105.82 1114.54" y="165.60" font-size="13.750">CS</text></g>
</svg>
</body></html>
